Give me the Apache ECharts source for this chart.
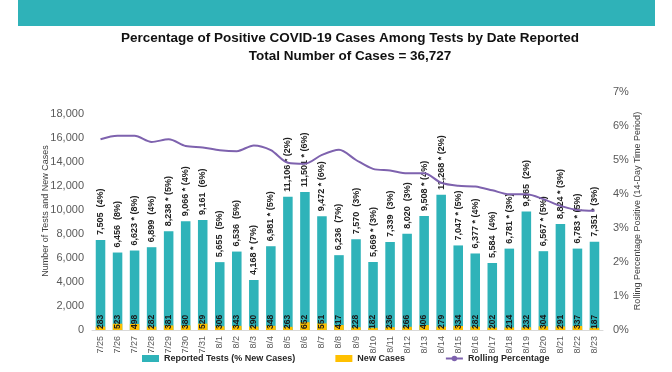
<!DOCTYPE html>
<html>
<head>
<meta charset="utf-8">
<script src="https://cdn.jsdelivr.net/npm/echarts@6/dist/echarts.min.js"></script>
<style>
  html, body { margin: 0; padding: 0; background: #ffffff; }
  #chart { width: 672px; height: 372px; }
</style>
</head>
<body>
<div id="chart"></div>
<script>
var dates = ['7/25','7/26','7/27','7/28','7/29','7/30','7/31','8/1','8/2','8/3','8/4','8/5','8/6','8/7','8/8','8/9','8/10','8/11','8/12','8/13','8/14','8/15','8/16','8/17','8/18','8/19','8/20','8/21','8/22','8/23'];
var reportedTests = [7505,6456,6623,6899,8238,9066,9161,5655,6536,4168,6981,11106,11501,9472,6236,7570,5669,7339,8020,9508,11268,7047,6377,5584,6781,9865,6567,8824,6783,7351];
var starred = [false,false,true,false,true,true,false,false,false,true,true,true,true,true,false,false,true,false,false,true,true,true,true,false,true,false,true,true,true,true];
var pctNewCases = [4,8,8,4,5,4,6,5,5,7,5,2,6,6,7,3,3,3,3,4,2,5,4,4,3,2,5,3,5,3];
var newCases = [283,523,498,282,381,380,529,306,343,290,348,263,652,551,417,228,182,236,266,406,279,334,282,202,214,232,304,291,337,187];
var rollingPct = [5.61,5.71,5.71,5.53,5.61,5.41,5.37,5.29,5.26,5.43,5.29,4.92,4.89,5.15,5.30,5.00,4.74,4.69,4.61,4.61,4.33,4.24,4.22,4.11,3.99,3.99,3.85,3.65,3.53,3.51];
var leftTicks = [0,2000,4000,6000,8000,10000,12000,14000,16000,18000];
var rightTicks = [0,1,2,3,4,5,6,7];

var FONT = "'Liberation Sans', Arial, sans-serif";
var TEAL = '#2fb3b9';
var ORANGE = '#ffc000';
var PURPLE = '#7e62ae';

function fmt(n) { return n.toString().replace(/\B(?=(\d{3})+(?!\d))/g, ','); }

var chart = echarts.init(document.getElementById('chart'), null, { renderer: 'canvas' });
chart.setOption({
  backgroundColor: '#ffffff',
  animation: false,
  textStyle: { fontFamily: FONT },
  graphic: [{
    type: 'rect', shape: { x: 18, y: 0, width: 637, height: 26 },
    style: { fill: '#2fb2b8' }, silent: true
  }],
  title: {
    text: 'Percentage of Positive COVID-19 Cases Among Tests by Date Reported\nTotal Number of Cases = 36,727',
    left: 350, top: 29, textAlign: 'center', padding: 0,
    textStyle: { fontFamily: FONT, fontSize: 13.5, fontWeight: 'bold', color: '#111111', lineHeight: 18 }
  },
  legend: {
    left: 142, top: 354, itemWidth: 17, itemHeight: 7, itemGap: 40, padding: 0,
    textStyle: { fontFamily: FONT, fontSize: 9, fontWeight: 'bold', color: '#262626' },
    data: [
      { name: 'Reported Tests (% New Cases)', icon: 'rect' },
      { name: 'New Cases', icon: 'rect' },
      { name: 'Rolling Percentage' }
    ]
  },
  grid: { left: 92, right: 69, top: 92, bottom: 42, containLabel: false },
  xAxis: {
    type: 'category', data: dates,
    axisLine: { lineStyle: { color: '#d9d9d9', width: 1 } },
    axisTick: { show: false },
    axisLabel: { rotate: 90, fontSize: 9, color: '#595959', margin: 6, interval: 0, fontFamily: FONT }
  },
  yAxis: [{
    type: 'value', min: 0, max: 19833, interval: 2000,
    name: 'Number of Tests and New Cases', nameLocation: 'middle', nameGap: 42, nameMoveOverlap: false,
    nameTextStyle: { fontSize: 9, color: '#404040', fontFamily: FONT },
    axisLine: { show: false }, axisTick: { show: false }, splitLine: { show: false },
    axisLabel: {
      fontSize: 11, color: '#595959', margin: 8, showMaxLabel: false, fontFamily: FONT,
      formatter: function (v) { return leftTicks.indexOf(v) >= 0 ? fmt(v) : ''; }
    }
  }, {
    type: 'value', min: 0, max: 7, interval: 1,
    name: 'Rolling Percentage Positive (14-Day Time Period)', nameLocation: 'middle', nameGap: 30, nameRotate: 90, nameMoveOverlap: false,
    nameTextStyle: { fontSize: 9, color: '#404040', fontFamily: FONT },
    axisLine: { show: false }, axisTick: { show: false }, splitLine: { show: false },
    axisLabel: {
      fontSize: 11, color: '#595959', margin: 10, fontFamily: FONT,
      formatter: function (v) { return rightTicks.indexOf(v) >= 0 ? v + '%' : ''; }
    }
  }],
  series: [{
    name: 'Reported Tests (% New Cases)', type: 'bar', yAxisIndex: 0,
    data: reportedTests, barWidth: '56%', barGap: '-100%',
    itemStyle: { color: TEAL },
    label: {
      show: true, position: 'top', rotate: 90, align: 'left', verticalAlign: 'middle', distance: 5,
      fontSize: 9, fontWeight: 'bold', color: '#222222', fontFamily: FONT,
      formatter: function (p) {
        var i = p.dataIndex;
        return fmt(reportedTests[i]) + (starred[i] ? ' * ' : '  ') + '(' + pctNewCases[i] + '%)';
      }
    }
  }, {
    name: 'New Cases', type: 'bar', yAxisIndex: 0,
    data: newCases, barWidth: '56%', barGap: '-100%',
    itemStyle: { color: ORANGE },
    label: {
      show: true, position: 'insideBottom', rotate: 90, align: 'left', verticalAlign: 'middle', distance: 1,
      fontSize: 8.5, fontWeight: 'bold', color: '#1a1a1a', fontFamily: FONT
    }
  }, {
    name: 'Rolling Percentage', type: 'line', yAxisIndex: 1,
    data: rollingPct, smooth: 0.3, symbol: 'none',
    lineStyle: { color: PURPLE, width: 2 }, itemStyle: { color: PURPLE }, z: 5
  }]
});
</script>
</body>
</html>
